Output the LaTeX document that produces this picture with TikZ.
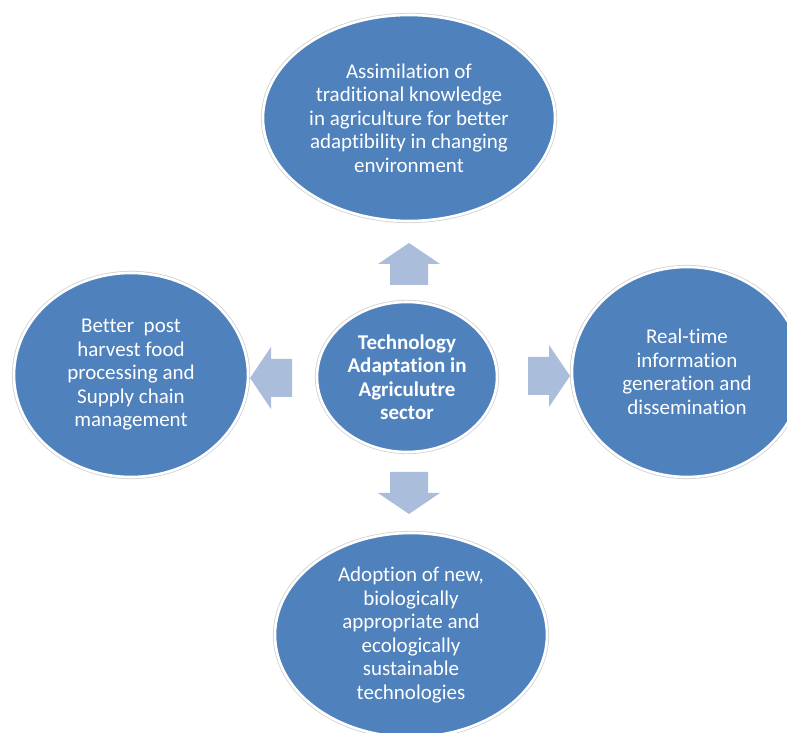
\documentclass[tikz,border=0pt]{standalone}
\usepackage{fontspec}
\setmainfont{Carlito}[Ligatures=NoCommon]
\usepackage{tikz}
\usetikzlibrary{shapes.geometric}

\definecolor{bubble}{HTML}{4F81BD}
\definecolor{pale}{HTML}{AABDDA}

\begin{document}
\begin{tikzpicture}[
  x=1pt, y=1pt,
  bub/.style={
    ellipse, fill=bubble, draw=white, line width=2.6pt,
    preaction={draw=black!18, line width=4.2pt},
    inner sep=0pt, text=white, align=center,
    font=\fontsize{21}{23.5}\selectfont
  },
  blockarrow/.style={fill=pale, draw=none}
]
  \useasboundingbox (0,0) rectangle (787,733);
  \begin{scope}
    \clip (0,0) rectangle (787,733);
    \node[bub, minimum width=180pt, minimum height=150pt, font=\fontsize{21}{23.5}\selectfont\bfseries]
      (hub) at (407,356) {Technology\\Adaptation in\\Agriculutre\\sector};
    \node[bub, minimum width=292pt, minimum height=206pt] (top) at (409,615)
      {Assimilation of\\traditional knowledge\\in agriculture for better\\adaptibility in changing\\environment};
    \node[bub, minimum width=234pt, minimum height=204pt] (left) at (131,358)
      {Better\ \ post\\harvest food\\processing and\\Supply chain\\management};
    \node[bub, minimum width=230pt, minimum height=210pt] (right) at (687,361)
      {Real-time\\information\\generation and\\dissemination};
    \node[bub, minimum width=272pt, minimum height=204pt] (bottom) at (411,98)
      {Adoption of new,\\biologically\\appropriate and\\ecologically\\sustainable\\technologies};
  \end{scope}
  % block arrows pointing out of the hub
  \foreach \ang/\bx/\by in {90/409/448, 270/409/261, 0/528/357, 180/292/355} {
    \fill[blockarrow, shift={(\bx,\by)}, rotate=\ang]
      (0,-19) -- (21,-19) -- (21,-31) -- (42,0) -- (21,31) -- (21,19) -- (0,19) -- cycle;
  }
\end{tikzpicture}
\end{document}
